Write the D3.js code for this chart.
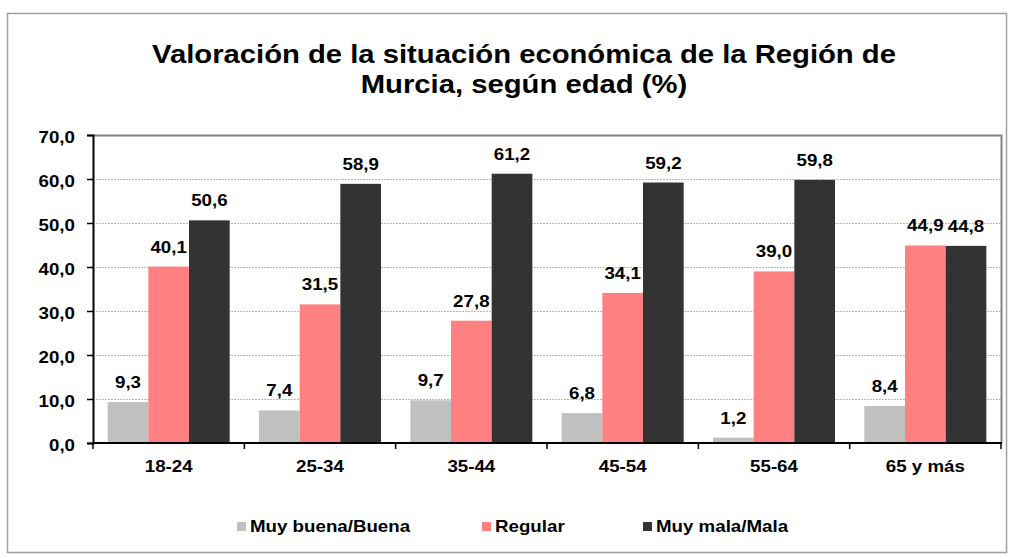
<!DOCTYPE html>
<html>
<head>
<meta charset="utf-8">
<script src="https://cdn.jsdelivr.net/npm/d3@7"></script>
<style>
  body { margin: 0; background: #fff; }
  svg { font-family: "Liberation Sans", Arial, sans-serif; }
</style>
</head>
<body>
<svg id="chart" width="1014" height="559"></svg>
<script>
// data
const ageGroups = ["18-24", "25-34", "35-44", "45-54", "55-64", "65 y más"];
const seriesNames = ["Muy buena/Buena", "Regular", "Muy mala/Mala"];
const buena = [9.3, 7.4, 9.7, 6.8, 1.2, 8.4];
const regular = [40.1, 31.5, 27.8, 34.1, 39.0, 44.9];
const mala = [50.6, 58.9, 61.2, 59.2, 59.8, 44.8];
const yTicks = [0, 10, 20, 30, 40, 50, 60, 70];
const colors = ["#C0C0C0", "#FF8080", "#333333"];

const series = [buena, regular, mala];
const svg = d3.select("#chart");
const sx = 1.17; // text in the original is a bit wide
const fmt = v => d3.format(".1f")(v).replace(".", ",");

// put a text at x,y, stretched horizontally
function place(sel, px, py) {
  return sel.attr("transform", (d, i) => {
    const a = typeof px === "function" ? px(d, i) : px;
    const b = typeof py === "function" ? py(d, i) : py;
    return "translate(" + a + "," + b + ") scale(" + sx + ",1)";
  });
}

// outer frame
svg.append("rect")
  .attr("x", 7.5).attr("y", 13.5)
  .attr("width", 999).attr("height", 539)
  .attr("fill", "#fff")
  .attr("stroke", "#A0A0A0")
  .attr("stroke-width", 1.5);

// title
const titleLines = ["Valoración de la situación económica de la Región de", "Murcia, según edad (%)"];
place(svg.selectAll(".title").data(titleLines).enter().append("text"), 524, (d, i) => 63 + i * 30)
  .attr("class", "title")
  .attr("text-anchor", "middle")
  .attr("font-weight", "bold")
  .attr("font-size", 25)
  .text(d => d);

const plotL = 93, plotR = 1001, plotT = 135, plotB = 443;

const x = d3.scaleBand()
  .domain(ageGroups)
  .range([plotL, plotR]);

const xs = d3.scaleBand()
  .domain(d3.range(series.length))
  .range([0, x.bandwidth()])
  .paddingInner(0)
  .paddingOuter(0.36);

const y = d3.scaleLinear()
  .domain([0, 70])
  .range([plotB, plotT]);

// gridlines
svg.append("g")
  .selectAll("line")
  .data(yTicks.filter(d => d > 0 && d < 70))
  .enter()
  .append("line")
  .attr("x1", plotL).attr("x2", plotR)
  .attr("y1", d => y(d) + 0.5).attr("y2", d => y(d) + 0.5)
  .attr("stroke", "#B8B8B8")
  .attr("stroke-width", 1)
  .attr("stroke-dasharray", "2,1");

// plot border top/right
svg.append("path")
  .attr("d", `M${plotL},${plotT + 0.5}H${plotR + 0.5}V${plotB}`)
  .attr("fill", "none")
  .attr("stroke", "#808080")
  .attr("stroke-width", 2);

// bars
const groups = svg.append("g")
  .selectAll("g")
  .data(ageGroups)
  .enter()
  .append("g")
  .attr("transform", d => "translate(" + x(d) + ",0)");

series.forEach((vals, si) => {
  groups.append("rect")
    .attr("x", xs(si))
    .attr("width", xs.bandwidth())
    .attr("y", (d, i) => y(vals[i]))
    .attr("height", (d, i) => plotB - y(vals[i]))
    .attr("fill", colors[si]);

  place(groups.append("text"), xs(si) + xs.bandwidth() / 2, (d, i) => y(vals[i]) - 14)
    .attr("text-anchor", "middle")
    .attr("font-weight", "bold")
    .attr("font-size", 16)
    .text((d, i) => fmt(vals[i]));
});

// y axis
const yAxis = d3.axisLeft(y)
  .tickValues(yTicks)
  .tickSize(6)
  .tickPadding(9.4)
  .tickFormat(fmt);

const ya = svg.append("g")
  .attr("transform", "translate(" + plotL + ",0)")
  .call(yAxis);
ya.select(".domain").attr("stroke", "#000").attr("stroke-width", 2);
ya.selectAll(".tick line").attr("stroke", "#000").attr("stroke-width", 1.5);
ya.selectAll(".tick text")
  .attr("font-family", "Liberation Sans, Arial, sans-serif")
  .attr("font-size", 16)
  .attr("font-weight", "bold")
  .attr("fill", "#000")
  .attr("dy", "0.45em")
  .attr("transform", "scale(" + sx + ",1)");

// x axis
const xAxis = d3.axisBottom(x).tickSize(0).tickPadding(18);
const xa = svg.append("g")
  .attr("transform", "translate(0," + plotB + ")")
  .call(xAxis);
xa.select(".domain").remove();
xa.append("line")
  .attr("x1", plotL).attr("x2", plotR + 1)
  .attr("y1", 0).attr("y2", 0)
  .attr("stroke", "#000").attr("stroke-width", 2);
xa.selectAll(".sep")
  .data(d3.range(ageGroups.length + 1))
  .enter()
  .append("line")
  .attr("x1", i => plotL + i * x.bandwidth())
  .attr("x2", i => plotL + i * x.bandwidth())
  .attr("y1", 0).attr("y2", 6)
  .attr("stroke", "#000").attr("stroke-width", 1.5);
xa.selectAll(".tick text")
  .attr("font-family", "Liberation Sans, Arial, sans-serif")
  .attr("font-size", 16)
  .attr("font-weight", "bold")
  .attr("fill", "#000")
  .attr("transform", "scale(" + sx + ",1)");

// legend
const legendX = [237, 482, 643];
const legend = svg.append("g")
  .selectAll("g")
  .data(seriesNames)
  .enter()
  .append("g")
  .attr("transform", (d, i) => "translate(" + legendX[i] + ",522)");
legend.append("rect")
  .attr("width", 9).attr("height", 9)
  .attr("fill", (d, i) => colors[i]);
place(legend.append("text"), 13, 10)
  .attr("font-size", 16)
  .attr("font-weight", "bold")
  .text(d => d);
</script>
</body>
</html>
